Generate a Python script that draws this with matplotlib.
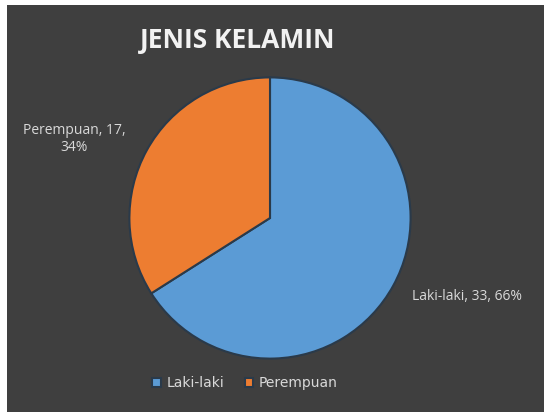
import matplotlib.pyplot as plt
from matplotlib.patches import Rectangle

labels = ['Laki-laki', 'Perempuan']
counts = [33, 17]
colors = ['#5b9bd5', '#ed7d31']

fig = plt.figure(figsize=(5.44, 4.12), dpi=100)
fig.patch.set_facecolor('white')
fig.patches.append(Rectangle((7 / 544, 0), 1, 1 - 5 / 412, transform=fig.transFigure,
                             facecolor='#3f3f3f', edgecolor='none', zorder=-1))

ax = fig.add_axes([(270 - 142) / 544, 1 - (218 + 142) / 412, 284 / 544, 284 / 412])
ax.set_facecolor('none')

total = sum(counts)
wedges, _ = ax.pie(counts, colors=colors, startangle=90, counterclock=False,
                   wedgeprops=dict(edgecolor='#2a3a4a', linewidth=1.5))
ax.set_xlim(-1.01, 1.01)
ax.set_ylim(-1.01, 1.01)
ax.set_aspect('equal')

# data labels
ax.annotate('%s, %d, %d%%' % (labels[0], counts[0], round(counts[0] / total * 100)),
            xy=(1.01, -0.56), ha='left', va='center', color='#d9d9d9', fontsize=10,
            family='Open Sans', annotation_clip=False)
ax.annotate('%s, %d,\n%d%%' % (labels[1], counts[1], round(counts[1] / total * 100)),
            xy=(-1.03, 0.56), ha='right', va='center', color='#d9d9d9', fontsize=10,
            family='Open Sans', multialignment='center', annotation_clip=False)

fig.text(238 / 544, 1 - 41 / 412, 'JENIS KELAMIN', ha='center', va='center',
         color='#f2f2f2', fontsize=19, fontweight='bold', family='Open Sans')

leg = fig.legend(wedges, labels, loc='center', bbox_to_anchor=(245 / 544, 1 - 383 / 412),
                 ncol=2, frameon=False, fontsize=10, handlelength=0.6, handleheight=0.6,
                 columnspacing=1.5, handletextpad=0.4)
for t in leg.get_texts():
    t.set_color('#d9d9d9')

fig.savefig('out.png', dpi=100, facecolor=fig.get_facecolor())
